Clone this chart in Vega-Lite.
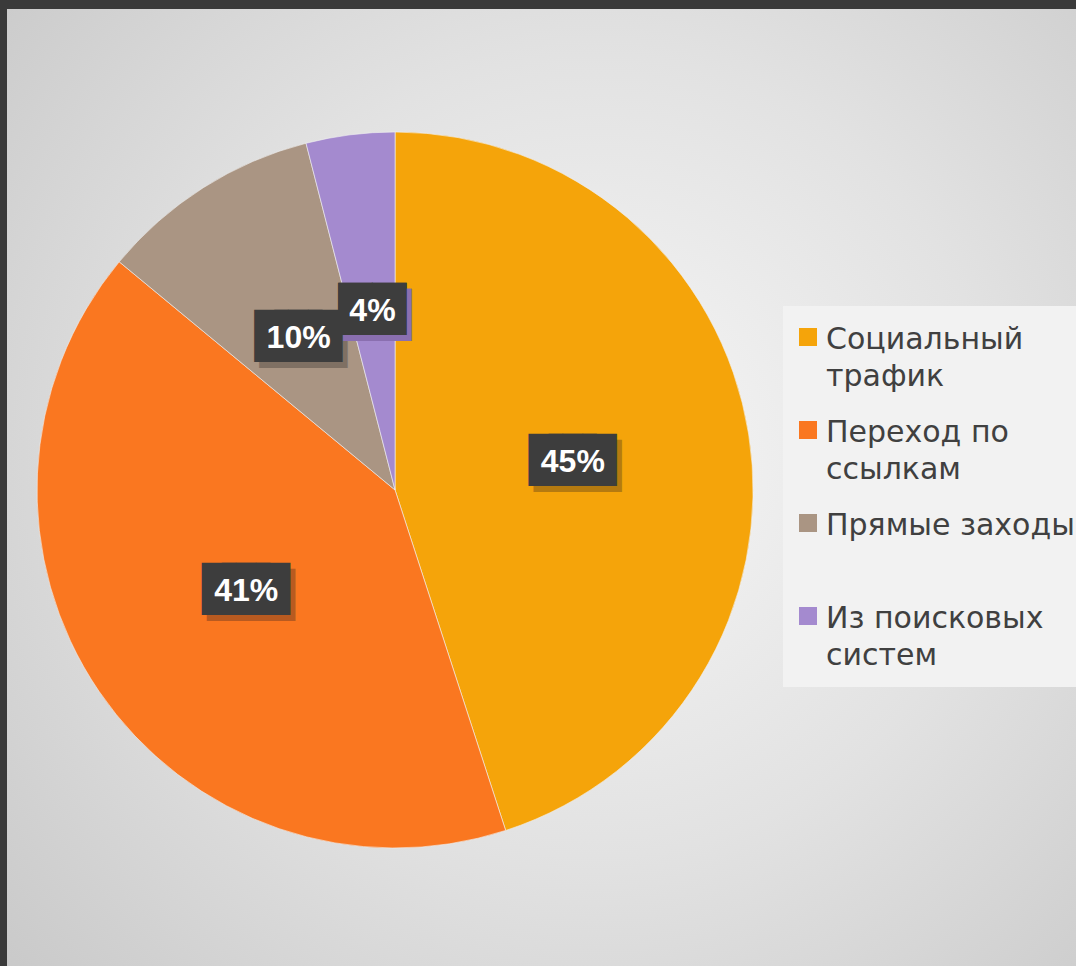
{
  "$schema": "https://vega.github.io/schema/vega-lite/v6.json",
  "width": 1076,
  "height": 966,
  "autosize": {"type": "fit", "contains": "padding"},
  "padding": {"left": 7, "top": 9, "right": 0, "bottom": 0},
  "background": "#3a3a3a",
  "config": {
    "view": {
      "stroke": null,
      "fill": {
        "gradient": "radial",
        "x1": 0.55, "y1": 0.47, "x2": 0.55, "y2": 0.47,
        "r1": 0, "r2": 0.75,
        "stops": [
          {"offset": 0, "color": "#f7f7f7"},
          {"offset": 0.5, "color": "#e2e2e2"},
          {"offset": 1, "color": "#c8c8c8"}
        ]
      }
    }
  },
  "data": {
    "values": [
      {"source": "Социальный трафик", "share": 45, "label": "45%", "rank": 1},
      {"source": "Переход по ссылкам", "share": 41, "label": "41%", "rank": 2},
      {"source": "Прямые заходы", "share": 10, "label": "10%", "rank": 3},
      {"source": "Из поисковых систем", "share": 4, "label": "4%", "rank": 4}
    ]
  },
  "encoding": {
    "theta": {"field": "share", "type": "quantitative", "stack": true},
    "order": {"field": "rank", "type": "quantitative"},
    "x": {"datum": 0.363, "type": "quantitative", "scale": {"domain": [0, 1], "nice": false, "zero": false}, "axis": null},
    "y": {"datum": 0.4974, "type": "quantitative", "scale": {"domain": [0, 1], "nice": false, "zero": false}, "axis": null}
  },
  "layer": [
    {
      "mark": {"type": "arc", "outerRadius": 358, "stroke": "#f2f2f2", "strokeWidth": 0.6},
      "encoding": {
        "color": {
          "field": "source",
          "type": "nominal",
          "sort": ["Социальный трафик", "Переход по ссылкам", "Прямые заходы", "Из поисковых систем"],
          "scale": {
            "domain": ["Социальный трафик", "Переход по ссылкам", "Прямые заходы", "Из поисковых систем"],
            "range": ["#F5A40A", "#FA7720", "#AA9583", "#A48ACF"]
          },
          "legend": {
            "title": null,
            "orient": "none",
            "legendX": 776,
            "legendY": 297,
            "fillColor": "#f2f2f2",
            "padding": 16,
            "symbolType": "square",
            "symbolSize": 324,
            "symbolStrokeWidth": 0,
            "symbolOffset": -6,
            "labelFont": "DejaVu Sans",
            "labelFontSize": 30,
            "labelColor": "#404040",
            "labelOffset": 3,
            "labelLimit": 400,
            "rowPadding": 23,
            "labelBaseline": "top",
            "labelExpr": "datum.label == 'Социальный трафик' ? ['Социальный', 'трафик'] : datum.label == 'Переход по ссылкам' ? ['Переход по', 'ссылкам'] : datum.label == 'Из поисковых систем' ? ['Из поисковых', 'систем'] : [datum.label, ' ']",
            "encoding": {
              "labels": {
                "lineHeight": {"value": 37},
                "dy": {"value": -12}
              }
            }
          }
        }
      }
    },
    {
      "mark": {
        "type": "text", "radius": 180, "text": "██", "font": "DejaVu Sans", "fontSize": 44, "baseline": "middle",
        "fill": {"expr": "datum.rank == 1 ? '#b57a10' : datum.rank == 2 ? '#b85a20' : datum.rank == 3 ? '#7f7063' : '#8a6fb0'"},
        "dx": {"expr": "(datum.share < 10 ? 0 : -10) + 5"}, "dy": 6
      }
    },
    {
      "mark": {
        "type": "text", "radius": 180, "text": "██", "font": "DejaVu Sans", "fontSize": 44, "baseline": "middle",
        "fill": {"expr": "datum.rank == 1 ? '#b57a10' : datum.rank == 2 ? '#b85a20' : datum.rank == 3 ? '#7f7063' : '#8a6fb0'"},
        "dx": {"expr": "(datum.share < 10 ? 0 : 10) + 5"}, "dy": 6
      }
    },
    {
      "mark": {"type": "text", "radius": 180, "text": "██", "font": "DejaVu Sans", "fontSize": 44, "fill": "#3d3d3d", "baseline": "middle", "dx": {"expr": "datum.share < 10 ? 0 : -10"}}
    },
    {
      "mark": {"type": "text", "radius": 180, "text": "██", "font": "DejaVu Sans", "fontSize": 44, "fill": "#3d3d3d", "baseline": "middle", "dx": {"expr": "datum.share < 10 ? 0 : 10"}}
    },
    {
      "mark": {"type": "text", "radius": 180, "font": "Liberation Sans", "fontWeight": "bold", "fontSize": 32, "fill": "#ffffff", "baseline": "middle"},
      "encoding": {"text": {"field": "label", "type": "nominal"}}
    }
  ]
}
